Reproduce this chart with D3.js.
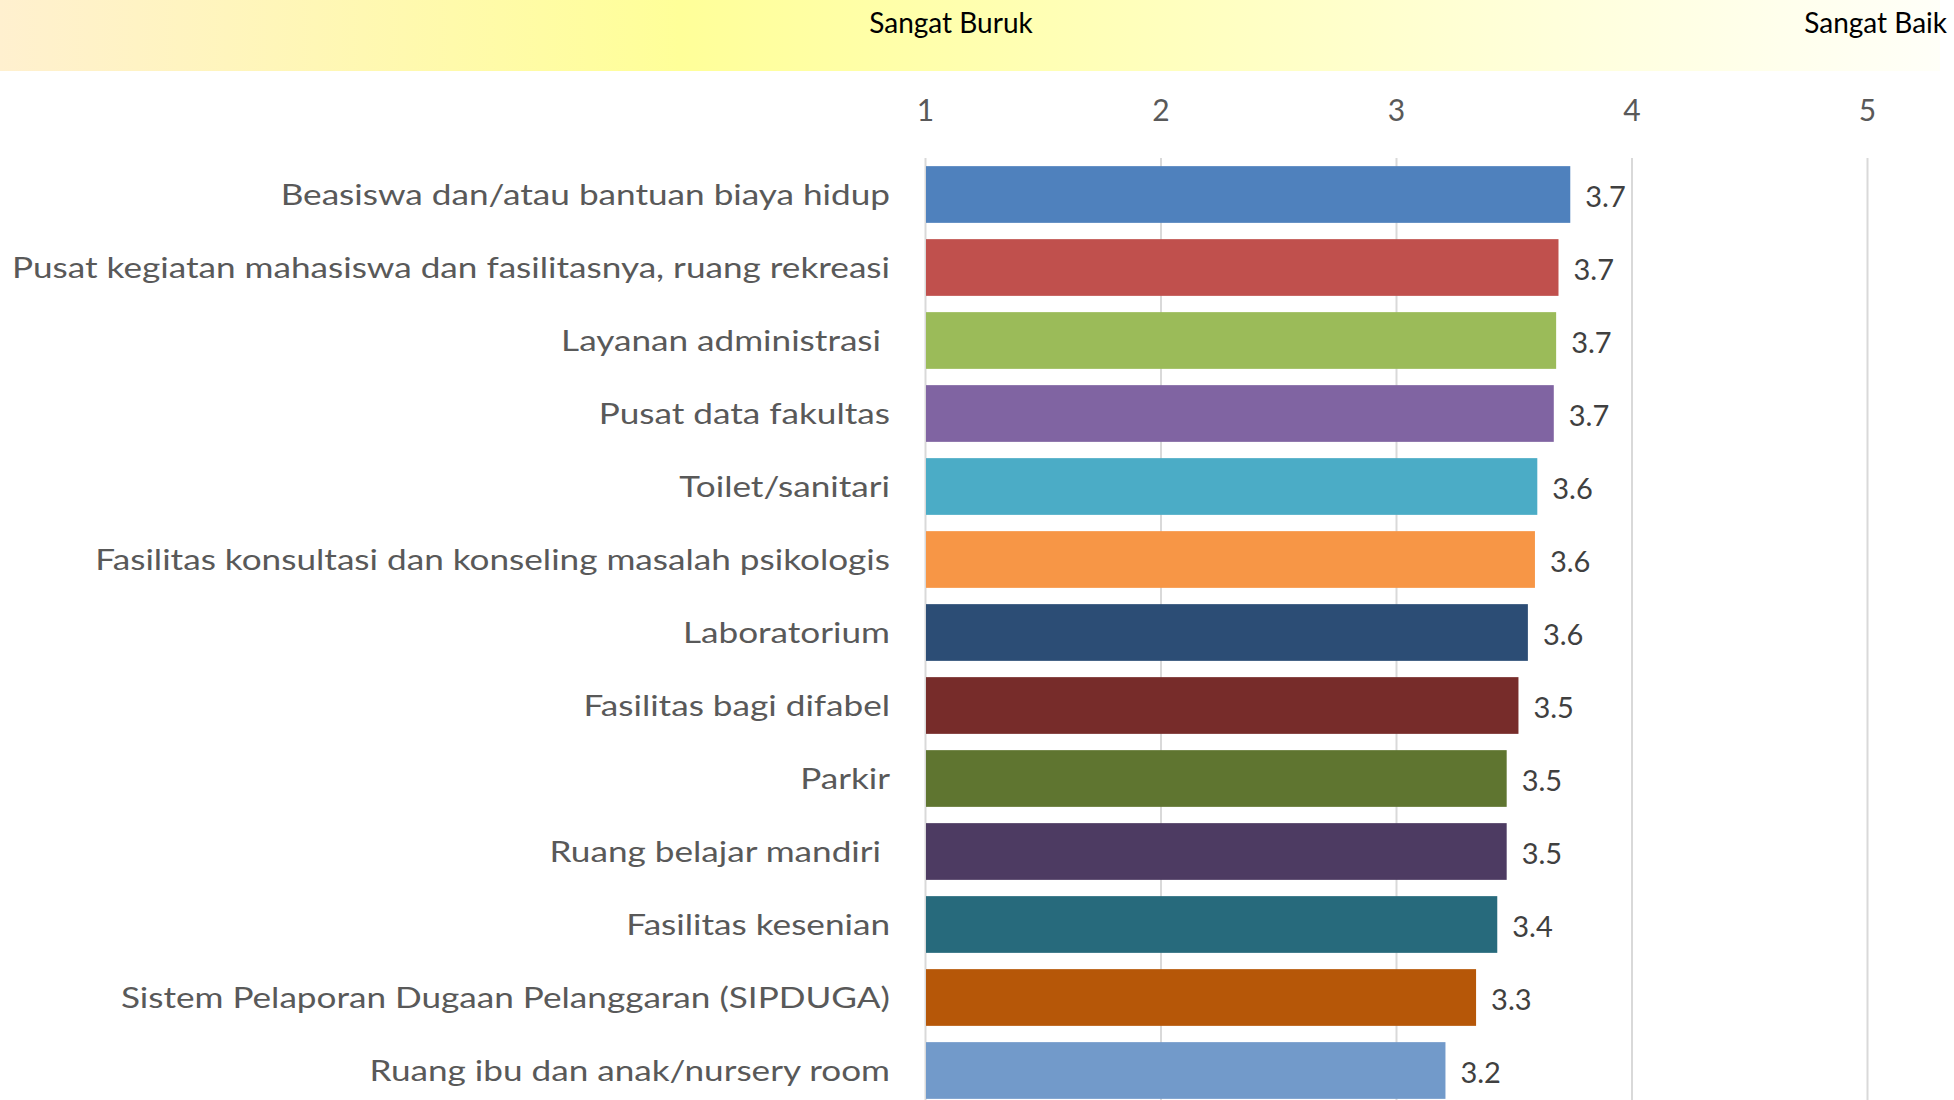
<!DOCTYPE html>
<html lang="en">
<head>
    <meta charset="UTF-8">
    <title>Kepuasan Fasilitas</title>
    <script src="https://d3js.org/d3.v7.min.js" type="text/JavaScript"></script>
    <style>
        body { margin: 0; background: #fff; }
        svg text { font-family: Lato, "Open Sans", sans-serif; white-space: pre; }
    </style>
</head>
<body>
<svg height="1100" id="chart" width="1954"></svg>
<script>
    // kategori layanan (urut dari atas)
    var categories = [
        "Beasiswa dan/atau bantuan biaya hidup",
        "Pusat kegiatan mahasiswa dan fasilitasnya, ruang rekreasi",
        "Layanan administrasi ",
        "Pusat data fakultas",
        "Toilet/sanitari",
        "Fasilitas konsultasi dan konseling masalah psikologis",
        "Laboratorium",
        "Fasilitas bagi difabel",
        "Parkir",
        "Ruang belajar mandiri ",
        "Fasilitas kesenian",
        "Sistem Pelaporan Dugaan Pelanggaran (SIPDUGA)",
        "Ruang ibu dan anak/nursery room"
    ];
    var scores = [3.74, 3.69, 3.68, 3.67, 3.60, 3.59, 3.56, 3.52, 3.47, 3.47, 3.43, 3.34, 3.21];
    var barColors = ["#4F81BD", "#C0504D", "#9BBB59", "#8064A2", "#4BACC6", "#F79646", "#2C4D75",
        "#772C2A", "#5F7530", "#4D3B62", "#276A7C", "#B65708", "#729ACA"];
    var tickValues = [1, 2, 3, 4, 5];
    var scaleLabels = ["Sangat Buruk", "Sangat Baik"];

    var svg = d3.select('#chart');
    var plot_top = 158;
    var label_right = 890;
    var label_stretch = 1.255; // teks kategori di gambar asli agak melebar

    // pita gradien di atas
    var grad = svg.append('defs').append('linearGradient')
        .attr('id', 'band').attr('x1', '0%').attr('x2', '100%');
    grad.append('stop').attr('offset', '0%').attr('stop-color', '#FFF0CF');
    grad.append('stop').attr('offset', '35%').attr('stop-color', '#FFFF99');
    grad.append('stop').attr('offset', '70%').attr('stop-color', '#FFFFCC');
    grad.append('stop').attr('offset', '100%').attr('stop-color', '#FFFFF8');
    svg.append('rect')
        .attr('x', 0).attr('y', 0).attr('width', 1940).attr('height', 71)
        .attr('fill', 'url(#band)');

    var xScale = d3.scaleLinear().domain([1, 5]).range([925, 1867]);
    var yScale = d3.scaleBand().domain(categories)
        .range([plot_top, plot_top + 949])
        .paddingInner(0.223).paddingOuter(0.1115);

    svg.append('text').attr('x', 951).attr('y', 22)
        .attr('text-anchor', 'middle').attr('dominant-baseline', 'central')
        .attr('font-size', 28).attr('fill', '#000').text(scaleLabels[0]);
    svg.append('text').attr('x', 1947).attr('y', 22)
        .attr('text-anchor', 'end').attr('dominant-baseline', 'central')
        .attr('font-size', 28).attr('fill', '#000').text(scaleLabels[1]);

    // garis grid + label sumbu
    var xAxis = d3.axisTop(xScale).tickValues(tickValues).tickSize(plot_top - 1100).tickPadding(0)
        .tickFormat(d3.format('d'));
    var gx = svg.append('g').attr('transform', 'translate(0,' + plot_top + ')').call(xAxis);
    gx.select('.domain').remove();
    gx.selectAll('.tick line').attr('stroke', '#D9D9D9').attr('stroke-width', 2);
    gx.selectAll('.tick text')
        .attr('y', 110 - plot_top).attr('dy', '0.35em')
        .attr('font-size', 30).attr('fill', '#595959')
        .style('font-family', 'Lato, sans-serif');

    svg.selectAll('rect.bar')
        .data(scores)
        .enter().append('rect')
        .attr('class', 'bar')
        .attr('x', xScale(1) + 1)
        .attr('y', (d, i) => yScale(categories[i]))
        .attr('width', d => xScale(d) - xScale(1) - 1)
        .attr('height', yScale.bandwidth())
        .attr('fill', (d, i) => barColors[i]);

    svg.selectAll('text.value')
        .data(scores)
        .enter().append('text')
        .attr('class', 'value')
        .attr('x', d => xScale(d) + 15)
        .attr('y', (d, i) => yScale(categories[i]) + yScale.bandwidth() / 2 + 2)
        .attr('dy', '0.35em')
        .attr('font-size', 29).attr('fill', '#404040')
        .text(d => d3.format('.1f')(d));

    svg.selectAll('text.cat')
        .data(categories)
        .enter().append('text')
        .attr('class', 'cat')
        .attr('transform', d => 'translate(' + label_right + ',' + (yScale(d) + yScale.bandwidth() / 2 + 1) + ') scale(' + label_stretch + ',1)')
        .attr('dy', '0.35em')
        .attr('text-anchor', 'end')
        .attr('font-size', 28).attr('fill', '#595959')
        .text(d => d);
</script>
</body>
</html>
